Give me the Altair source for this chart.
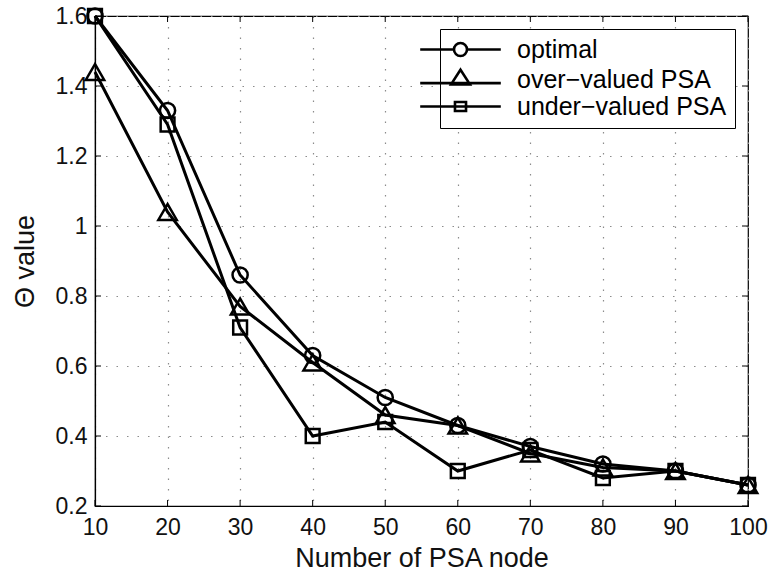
import altair as alt
import pandas as pd

# Number of PSA nodes on the x axis
nodes = [10, 20, 30, 40, 50, 60, 70, 80, 90, 100]

# Theta value for each strategy
optimal = [1.60, 1.33, 0.86, 0.63, 0.51, 0.43, 0.37, 0.32, 0.30, 0.26]
over_valued = [1.44, 1.04, 0.77, 0.61, 0.46, 0.43, 0.35, 0.31, 0.30, 0.26]
under_valued = [1.60, 1.29, 0.71, 0.40, 0.44, 0.30, 0.36, 0.28, 0.30, 0.26]

series_names = ["optimal", "over\u2212valued PSA", "under\u2212valued PSA"]
x_ticks = [10, 20, 30, 40, 50, 60, 70, 80, 90, 100]
y_ticks = [0.2, 0.4, 0.6, 0.8, 1.0, 1.2, 1.4, 1.6]

rows = []
for name, vals in zip(series_names, [optimal, over_valued, under_valued]):
    for n, v in zip(nodes, vals):
        rows.append({"nodes": n, "theta": v, "series": name})
df = pd.DataFrame(rows)

W, H = 653, 490
FONT = "Liberation Sans"

# marker shape and area per series
marker_shapes = ["circle", "triangle-up", "square"]
marker_sizes = [230, 340, 190]

# legend glyphs: a line segment with the series marker drawn over it
legend_glyphs = [
    "M-6.2,0H-1M1,0H6.2M-1,0A1,1 0 1,1 1,0A1,1 0 1,1 -1,0",
    "M-6.2,0.55H6.2M0,-1.5L1.45,0.75L-1.45,0.75Z",
    "M-6.2,0H6.2M-0.85,-0.7H0.85V0.7H-0.85Z",
]

x_scale = alt.Scale(domain=[10, 100], nice=False, zero=False)
y_scale = alt.Scale(domain=[0.2, 1.6], nice=False, zero=False)

x_enc = alt.X(
    "nodes:Q",
    scale=x_scale,
    axis=alt.Axis(
        values=x_ticks,
        title="Number of PSA node",
        grid=True,
        ticks=False,
        labelFlush=False,
        labelPadding=10,
        titlePadding=6,
    ),
)
y_enc = alt.Y(
    "theta:Q",
    scale=y_scale,
    axis=alt.Axis(
        values=y_ticks,
        format="~g",
        title="\u0398 value",
        grid=True,
        ticks=False,
        labelFlush=False,
        labelPadding=8,
        titlePadding=16,
    ),
)

base = alt.Chart(df)

lines = base.mark_line(color="black", strokeWidth=3).encode(
    x=x_enc, y=y_enc, detail="series:N"
)

# one open-marker layer per series
point_layers = [
    base.transform_filter(alt.datum.series == name)
    .mark_point(filled=False, color="black", strokeWidth=2.5, opacity=1,
                shape=shape, size=size)
    .encode(x="nodes:Q", y="theta:Q")
    for name, shape, size in zip(series_names, marker_shapes, marker_sizes)
]

# hidden layer that only carries the legend
legend_layer = base.mark_point(
    filled=False, color="black", strokeWidth=2.6, opacity=0
).encode(
    x="nodes:Q",
    y="theta:Q",
    shape=alt.Shape(
        "series:N",
        scale=alt.Scale(domain=series_names, range=legend_glyphs),
        legend=alt.Legend(
            title=None,
            orient="none",
            legendX=345,
            legendY=13,
            symbolSize=169,
            symbolOpacity=1,
            symbolStrokeWidth=2.6,
            symbolStrokeColor="black",
            symbolFillColor="transparent",
            labelOffset=44,
            labelFontSize=25,
            labelFont=FONT,
            labelColor="black",
            labelLimit=400,
            rowPadding=1,
            padding=8,
            strokeColor="black",
            fillColor="white",
        ),
    ),
)

# inward tick marks on all four sides of the frame
xt = pd.DataFrame({"nodes": x_ticks})
yt = pd.DataFrame({"theta": y_ticks})
tick_bottom = alt.Chart(xt).mark_rule(color="black", strokeWidth=1).encode(
    x="nodes:Q", y=alt.value(H), y2=alt.value(H - 6)
)
tick_top = alt.Chart(xt).mark_rule(color="black", strokeWidth=1).encode(
    x="nodes:Q", y=alt.value(0), y2=alt.value(6)
)
tick_left = alt.Chart(yt).mark_rule(color="black", strokeWidth=1).encode(
    y="theta:Q", x=alt.value(0), x2=alt.value(6)
)
tick_right = alt.Chart(yt).mark_rule(color="black", strokeWidth=1).encode(
    y="theta:Q", x=alt.value(W), x2=alt.value(W - 6)
)

chart = (
    alt.layer(tick_bottom, tick_top, tick_left, tick_right, lines,
              *point_layers, legend_layer)
    .properties(
        width=W,
        height=H,
        autosize=alt.AutoSizeParams(type="none"),
        padding={"left": 95, "top": 16, "right": 24, "bottom": 72},
        background="white",
    )
    .configure_view(stroke="black", strokeWidth=1.2)
    .configure_axis(
        domainColor="black",
        domainWidth=1.2,
        gridColor="#8c8c8c",
        gridDash=[1.5, 9],
        gridWidth=1.2,
        labelFont=FONT,
        labelFontSize=23,
        labelColor="#111111",
        titleFont=FONT,
        titleFontSize=27,
        titleFontWeight="normal",
        titleColor="#111111",
    )
)

chart.save("out.html", embed_options={"renderer": "svg", "actions": False})
